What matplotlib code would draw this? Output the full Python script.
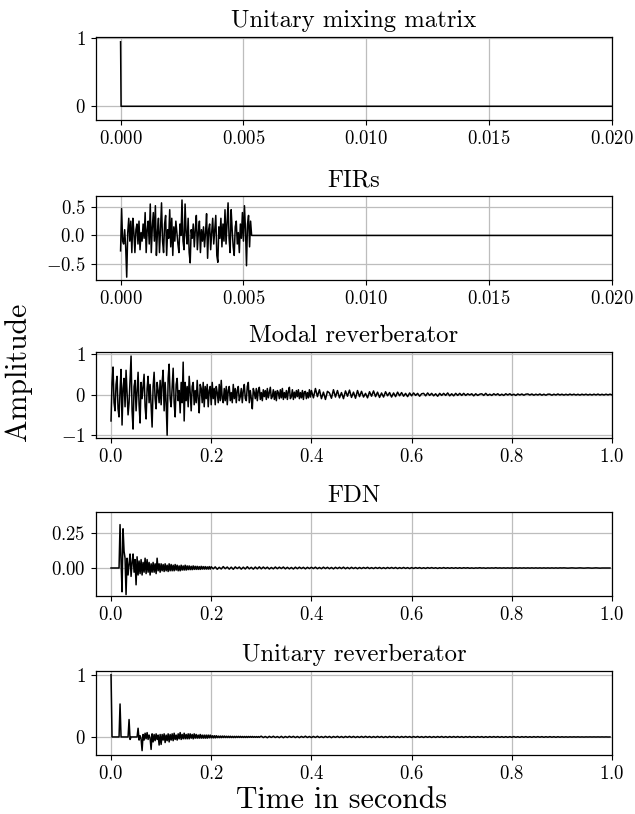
import numpy as np
import matplotlib
matplotlib.use("Agg")
import matplotlib.pyplot as plt

plt.rcParams['font.family'] = 'serif'
plt.rcParams['font.serif'] = ['cmr10']
plt.rcParams['mathtext.fontset'] = 'cm'
plt.rcParams['axes.formatter.use_mathtext'] = True

# ---------------- data ----------------
FS = 48000.0

titles = ["Unitary mixing matrix", "FIRs", "Modal reverberator", "FDN", "Unitary reverberator"]

# Unitary mixing matrix: single impulse then zeros
mix_dt = 1.0 / FS
mix_vals = [0.94, 0.0]
mix_end = 0.021

# FIRs: values every 2 samples, then zero
fir_dt = 2.0 / FS
fir_vals = [
    -0.27, 0.47, -0.10, -0.15, 0.10, -0.20, -0.73, 0.05, 0.30, -0.10,
    0.25, -0.30, 0.30, 0.05, -0.30, 0.10, 0.20, -0.15, 0.25, -0.25,
    0.05, -0.10, 0.20, -0.05, 0.40, -0.30, 0.10, 0.25, -0.15, 0.55,
    -0.30, 0.15, 0.40, -0.10, 0.52, -0.35, 0.05, 0.30, -0.30, 0.10,
    0.57, -0.10, -0.30, 0.20, 0.35, -0.35, 0.10, -0.05, 0.45, -0.20,
    0.30, -0.35, 0.15, -0.10, 0.25, 0.05, -0.15, -0.30, 0.20, 0.00,
    0.62, -0.10, -0.25, 0.55, 0.05, -0.15, 0.30, -0.30, -0.48, 0.10,
    -0.05, 0.20, -0.20, 0.10, 0.35, -0.25, 0.05, 0.25, -0.30, 0.10,
    -0.10, 0.15, -0.20, 0.05, 0.38, -0.40, 0.10, 0.20, -0.25, 0.05,
    0.30, -0.15, 0.10, 0.35, -0.35, -0.47, 0.15, -0.05, 0.30, -0.20,
    0.20, -0.10, 0.45, -0.15, 0.20, 0.57, -0.05, -0.30, 0.45, 0.10,
    -0.20, -0.35, 0.15, 0.25, -0.15, 0.05, -0.30, 0.20, -0.05, 0.40,
    -0.10, 0.52, 0.10, -0.53, 0.20, 0.35, -0.20, 0.25,
]
fir_end = 0.021

# Modal reverberator: early part every 2 ms (0 - 0.4 s), then every 4 ms
modal_early_dt = 0.002
modal_early = [
    -0.65, 0.30, 0.68, -0.20, -0.40, 0.25, 0.45, -0.35, -0.55, 0.10,
    0.62, -0.75, 0.15, 0.40, -0.30, 0.60, 0.05, -0.50, -0.20, 0.35,
    0.95, -0.40, -0.85, 0.20, 0.35, -0.40, 0.10, 0.55, -0.25, -0.70,
    0.30, -0.10, 0.20, 0.50, -0.30, -0.60, 0.15, 0.45, -0.20, 0.25,
    -0.30, -0.80, 0.20, 0.55, -0.10, -0.35, 0.30, 0.10, -0.20, 0.35,
    -0.25, 0.30, 0.60, -0.40, 0.30, -0.20, -1.00, 0.40, 0.75, -0.10,
    -0.30, 0.20, 0.65, -0.20, -0.55, 0.25, 0.40, -0.15, 0.10, -0.45,
    0.30, -0.20, 0.80, -0.65, 0.30, -0.15, 0.20, -0.30, 0.45, 0.05,
    -0.40, 0.20, 0.30, -0.25, 0.10, -0.20, 0.35, -0.10, -0.45, 0.25,
    0.15, -0.20, 0.30, -0.30, 0.20, -0.10, 0.25, -0.30, 0.10, 0.20,
    -0.25, 0.30, -0.10, 0.15, -0.25, 0.20, 0.05, -0.20, 0.25, -0.15,
    0.35, -0.10, -0.20, 0.15, -0.15, 0.20, -0.25, 0.10, 0.20, -0.15,
    0.05, -0.20, 0.25, -0.10, 0.15, -0.20, 0.10, 0.20, -0.15, -0.05,
    0.15, -0.20, 0.10, 0.25, -0.10, -0.15, 0.20, 0.30, -0.20, 0.10,
    -0.10, -0.35, 0.15, 0.05, -0.10, 0.15, -0.15, 0.10, 0.18, -0.12,
    0.05, -0.15, 0.12, -0.05, 0.10, -0.12, 0.15, -0.08, 0.05, 0.18,
    -0.10, -0.05, 0.12, -0.12, 0.08, -0.15, 0.10, 0.05, -0.10, 0.12,
    -0.08, 0.15, -0.12, 0.05, -0.08, 0.10, -0.12, 0.08, 0.18, -0.10,
    -0.05, 0.12, -0.12, 0.06, -0.08, 0.10, -0.05, 0.12, -0.10, 0.05,
    -0.08, 0.10, -0.12, 0.06, 0.08, -0.10, 0.05, -0.08, 0.12, -0.06,
]
modal_tail_start = 0.4
modal_tail_dt = 0.004
modal_tail = [
    0.10, -0.08, 0.15, -0.05, 0.12, -0.10, 0.06, -0.12, 0.08, 0.04,
    -0.09, 0.12, -0.06, 0.10, -0.08, 0.05, -0.10, 0.09, -0.04, 0.11,
    -0.07, 0.06, -0.09, 0.10, -0.05,
    0.08, -0.06, 0.03, -0.08, 0.07, -0.04, 0.09, -0.05, 0.06, -0.07,
    0.04, -0.06, 0.07, -0.03, 0.05, -0.06, 0.04, -0.05, 0.06, -0.03,
    0.05, -0.04, 0.03, -0.05, 0.04,
    -0.03, 0.04, -0.02, 0.03, -0.04, 0.02, 0.03, -0.03, 0.04, -0.02,
    0.03, -0.03, 0.02, -0.04, 0.03, -0.02, 0.03, -0.02, 0.04, -0.03,
    0.02, -0.03, 0.03, -0.02, 0.03,
    -0.02, 0.03, -0.02, 0.02, -0.01, 0.02, -0.03, 0.02, -0.02, 0.01,
    0.02, -0.02, 0.03, -0.02, 0.01, -0.02, 0.02, -0.01, 0.02, -0.02,
    0.01, -0.02, 0.02, -0.01, 0.02,
    -0.015, 0.01, -0.02, 0.015, -0.01, 0.015, -0.015, 0.01, 0.015, -0.01,
    0.015, -0.015, 0.01, -0.01, 0.015, -0.015, 0.01, -0.015, 0.01, 0.01,
    -0.015, 0.01, -0.01, 0.015, -0.01,
    0.01, -0.012, 0.008, -0.01, 0.012, -0.008, 0.01, -0.01, 0.008, -0.012,
    0.01, -0.008, 0.01, -0.01, 0.008, -0.01, 0.01, -0.008, 0.012, -0.01,
    0.008, -0.01, 0.01, -0.008, 0.01, -0.008,
]

# FDN: early part every 2 ms (0 - 0.2 s), tail every 4 ms
fdn_early_dt = 0.002
fdn_early = [
    0.00, 0.00, 0.00, 0.00, 0.00, 0.00, 0.00, 0.00, 0.00, 0.31,
    0.05, -0.17, 0.28, 0.12, 0.07, -0.19, 0.07, -0.05, 0.03, 0.10,
    -0.06, 0.04, 0.10, -0.03, 0.06, -0.12, 0.08, -0.05, 0.05, -0.04,
    0.06, -0.05, 0.04, -0.03, 0.07, -0.04, 0.06, -0.03, 0.04, -0.05,
    0.03, -0.03, 0.04, -0.03, 0.03, -0.04, 0.07, -0.02, 0.03, -0.03,
    0.03, -0.02, 0.025, -0.025, 0.03, -0.02, 0.02, -0.025, 0.03, -0.02,
    0.025, -0.02, 0.02, -0.02, 0.025, -0.015, 0.02, -0.02, 0.015, -0.02,
    0.02, -0.015, 0.015, -0.015, 0.02, -0.015, 0.015, -0.012, 0.015, -0.012,
    0.012, -0.012, 0.015, -0.01, 0.012, -0.01, 0.012, -0.01, 0.01, -0.01,
    0.012, -0.008, 0.01, -0.008, 0.01, -0.008, 0.008, -0.008, 0.01, -0.008,
]
fdn_tail_start = 0.2
fdn_tail_dt = 0.004
fdn_tail = [
    0.009, -0.006, 0.008, -0.009, 0.005, -0.007, 0.010, -0.005, 0.007, -0.008,
    0.006, -0.009, 0.008, -0.004, 0.007, -0.008, 0.006, -0.007, 0.009, -0.006,
    0.005, -0.008, 0.007, -0.006, 0.008,
    -0.006, 0.007, -0.005, 0.006, -0.007, 0.004, -0.006, 0.007, -0.005, 0.006,
    -0.004, 0.007, -0.006, 0.005, -0.006, 0.004, -0.007, 0.006, -0.005, 0.006,
    -0.004, 0.005, -0.006, 0.005, -0.004,
    0.005, -0.004, 0.006, -0.005, 0.004, -0.005, 0.006, -0.004, 0.005, -0.005,
    0.004, -0.006, 0.005, -0.004, 0.005, -0.004, 0.006, -0.005, 0.004, -0.005,
    0.005, -0.004, 0.004, -0.005, 0.004,
    -0.004, 0.004, -0.003, 0.005, -0.004, 0.003, -0.004, 0.004, -0.003, 0.004,
    -0.004, 0.003, -0.004, 0.004, -0.003, 0.004, -0.003, 0.004, -0.004, 0.003,
    -0.003, 0.004, -0.003, 0.003, -0.004,
    0.003, -0.003, 0.003, -0.002, 0.003, -0.003, 0.002, -0.003, 0.003, -0.002,
    0.003, -0.002, 0.002, -0.003, 0.002, -0.002, 0.003, -0.002, 0.002, -0.002,
    0.002, -0.002, 0.002, -0.002, 0.002,
    -0.002, 0.002, -0.001, 0.002, -0.002, 0.001, -0.002, 0.001, -0.001, 0.002,
    -0.001, 0.001, -0.002, 0.001, -0.001, 0.001, -0.001, 0.002, -0.001, 0.001,
    -0.001, 0.001, -0.001, 0.001, -0.001,
    0.001, -0.001, 0.001, -0.001, 0.001, -0.001, 0.001, -0.001, 0.001, -0.001,
    0.001, -0.001, 0.001, -0.001, 0.001, -0.001, 0.001, -0.001, 0.001, -0.001,
    0.001, -0.001, 0.001, -0.001, 0.001,
    0.0, 0.001, 0.0, -0.001, 0.0, 0.001, 0.0, -0.001, 0.0, 0.001,
    0.0, -0.001, 0.0, 0.001, 0.0, -0.001, 0.0, 0.001, 0.0, -0.001,
    0.0, 0.0, 0.0, 0.0, 0.0,
]

# Unitary reverberator: early part every 2 ms (0 - 0.3 s), tail every 4 ms
uni_early_dt = 0.002
uni_early = [
    1.00, 0.00, 0.00, 0.00, 0.00, 0.00, 0.00, 0.00, 0.00, 0.53,
    0.00, 0.00, 0.00, 0.00, 0.00, 0.00, 0.00, 0.00, 0.28, -0.04,
    0.00, 0.00, 0.00, 0.00, 0.00, 0.00, 0.00, 0.14, -0.05, 0.02,
    -0.03, -0.22, 0.04, -0.05, 0.06, -0.03, 0.07, -0.04, 0.03, -0.02,
    -0.20, 0.05, -0.08, 0.04, -0.06, 0.05, -0.04, 0.03, -0.13, 0.04,
    -0.12, 0.04, -0.05, 0.05, -0.09, 0.03, -0.06, 0.05, -0.08, 0.04,
    -0.05, 0.05, -0.06, 0.06, -0.04, 0.03, -0.05, 0.05, -0.03, 0.07,
    -0.04, 0.04, -0.03, 0.06, -0.03, 0.04, -0.03, 0.05, -0.03, 0.05,
    -0.02, 0.04, -0.03, 0.05, -0.02, 0.04, -0.02, 0.03, -0.02, 0.04,
    -0.02, 0.03, -0.02, 0.03, -0.02, 0.03, -0.02, 0.03, -0.015, 0.03,
    -0.015, 0.02, -0.015, 0.02, -0.015, 0.02, -0.012, 0.015, -0.012, 0.015,
    -0.012, 0.015, -0.01, 0.015, -0.01, 0.012, -0.01, 0.012, -0.01, 0.012,
    -0.01, 0.01, -0.01, 0.01, -0.01, 0.01, -0.008, 0.01, -0.008, 0.01,
    -0.008, 0.008, -0.008, 0.008, -0.008, 0.008, -0.008, 0.008, -0.006, 0.008,
    -0.006, 0.008, -0.006, 0.006, -0.006, 0.006, -0.006, 0.006, -0.006, 0.006,
]
uni_tail_start = 0.3
uni_tail_dt = 0.004
uni_tail = [
    0.012, -0.010, 0.008, -0.012, 0.010, -0.008, 0.011, -0.009, 0.007, -0.011,
    0.010, -0.012, 0.008, -0.009, 0.011, -0.007, 0.010, -0.010, 0.008, -0.011,
    0.009, -0.008, 0.012, -0.009, 0.008,
    -0.010, 0.009, -0.008, 0.011, -0.009, 0.007, -0.010, 0.010, -0.008, 0.009,
    -0.011, 0.008, -0.007, 0.010, -0.009, 0.008, -0.010, 0.009, -0.007, 0.010,
    -0.008, 0.009, -0.009, 0.007, -0.008,
    0.009, -0.008, 0.010, -0.007, 0.008, -0.009, 0.007, -0.008, 0.009, -0.007,
    0.008, -0.009, 0.007, -0.008, 0.009, -0.006, 0.008, -0.008, 0.007, -0.009,
    0.008, -0.007, 0.008, -0.006, 0.007,
    -0.008, 0.007, -0.006, 0.008, -0.007, 0.006, -0.008, 0.007, -0.006, 0.007,
    -0.008, 0.006, -0.007, 0.007, -0.006, 0.008, -0.007, 0.006, -0.007, 0.007,
    -0.006, 0.007, -0.006, 0.007, -0.006,
    0.006, -0.007, 0.006, -0.005, 0.007, -0.006, 0.005, -0.006, 0.006, -0.005,
    0.006, -0.007, 0.005, -0.006, 0.006, -0.005, 0.006, -0.005, 0.006, -0.006,
    0.005, -0.006, 0.005, -0.006, 0.005,
    -0.005, 0.006, -0.005, 0.004, -0.006, 0.005, -0.004, 0.005, -0.005, 0.004,
    -0.005, 0.005, -0.004, 0.005, -0.004, 0.005, -0.005, 0.004, -0.004, 0.005,
    -0.004, 0.004, -0.005, 0.004, -0.004,
    0.003, -0.003, 0.002, -0.003, 0.002, -0.002, 0.002, -0.002, 0.002, -0.002,
    0.001, -0.002, 0.001, -0.001, 0.001, -0.001, 0.001, -0.001, 0.001, -0.001,
    0.001, -0.001, 0.001, -0.001, 0.0,
]

ylims = [(-0.2, 1.01), (-0.78, 0.69), (-1.07, 1.05), (-0.2, 0.4), (-0.29, 1.06)]
yticks = [[0, 1], [-0.5, 0.0, 0.5], [-1, 0, 1], [0.0, 0.25], [0, 1]]
ytick_labels = [["$0$", "$1$"], ["$-0.5$", "$0.0$", "$0.5$"], ["$-1$", "$0$", "$1$"],
                ["$0.00$", "$0.25$"], ["$0$", "$1$"]]
short_xticks = [0.0, 0.005, 0.01, 0.015, 0.02]
short_xlabels = ["$0.000$", "$0.005$", "$0.010$", "$0.015$", "$0.020$"]
long_xticks = [0.0, 0.2, 0.4, 0.6, 0.8, 1.0]
long_xlabels = ["$0.0$", "$0.2$", "$0.4$", "$0.6$", "$0.8$", "$1.0$"]


def uniform(vals, dt, t0=0.0):
    v = np.asarray(vals, dtype=float)
    return t0 + np.arange(len(v)) * dt, v


def joined(a_vals, a_dt, b_vals, b_dt, b_t0):
    ta, ya = uniform(a_vals, a_dt)
    tb, yb = uniform(b_vals, b_dt, b_t0)
    return np.concatenate([ta, tb]), np.concatenate([ya, yb])


# build series
t_mix, y_mix = uniform(mix_vals, mix_dt)
t_mix = np.append(t_mix, mix_end); y_mix = np.append(y_mix, 0.0)

t_fir, y_fir = uniform(fir_vals, fir_dt)
t_fir = np.append(t_fir, [t_fir[-1] + fir_dt, fir_end]); y_fir = np.append(y_fir, [0.0, 0.0])

t_mod, y_mod = joined(modal_early, modal_early_dt, modal_tail, modal_tail_dt, modal_tail_start)
t_fdn, y_fdn = joined(fdn_early, fdn_early_dt, fdn_tail, fdn_tail_dt, fdn_tail_start)
t_uni, y_uni = joined(uni_early, uni_early_dt, uni_tail, uni_tail_dt, uni_tail_start)

series = [(t_mix, y_mix), (t_fir, y_fir), (t_mod, y_mod), (t_fdn, y_fdn), (t_uni, y_uni)]

# ---------------- layout ----------------
W, H = 635, 814
fig = plt.figure(figsize=(W / 100, H / 100), dpi=100)
boxes = [(96, 37, 612, 120), (96, 196, 612, 280), (96, 352, 612, 438),
         (96, 512, 612, 596), (96, 671, 612, 755)]

TICK_FS = 13.5
TITLE_FS = 17.8
LABEL_FS = 21.5

for k, (l, t, r, b) in enumerate(boxes):
    ax = fig.add_axes([l / W, 1 - b / H, (r - l) / W, (b - t) / H])
    tx, ty = series[k]
    ax.plot(tx, ty, color='black', lw=1.1)
    ax.set_title(titles[k], fontsize=TITLE_FS, pad=7)
    if k < 2:
        ax.set_xlim(-0.001, 0.02)
        ax.set_xticks(short_xticks)
        ax.set_xticklabels(short_xlabels)
    else:
        ax.set_xlim(-0.03, 1.0)
        ax.set_xticks(long_xticks)
        ax.set_xticklabels(long_xlabels)
    ax.set_ylim(*ylims[k])
    ax.set_yticks(yticks[k])
    ax.set_yticklabels(ytick_labels[k])
    ax.tick_params(labelsize=TICK_FS, length=3.5, width=0.8, pad=4)
    ax.grid(True, color='#bdbdbd', lw=0.9)
    for sp in ax.spines.values():
        sp.set_linewidth(0.9)

fig.text(342 / W, 1 - 800 / H, "Time in seconds", fontsize=LABEL_FS,
         ha='center', va='center')
fig.text(18 / W, 1 - 372 / H, "Amplitude", rotation=90, fontsize=LABEL_FS,
         ha='center', va='center')

fig.savefig("out.png", dpi=100)
